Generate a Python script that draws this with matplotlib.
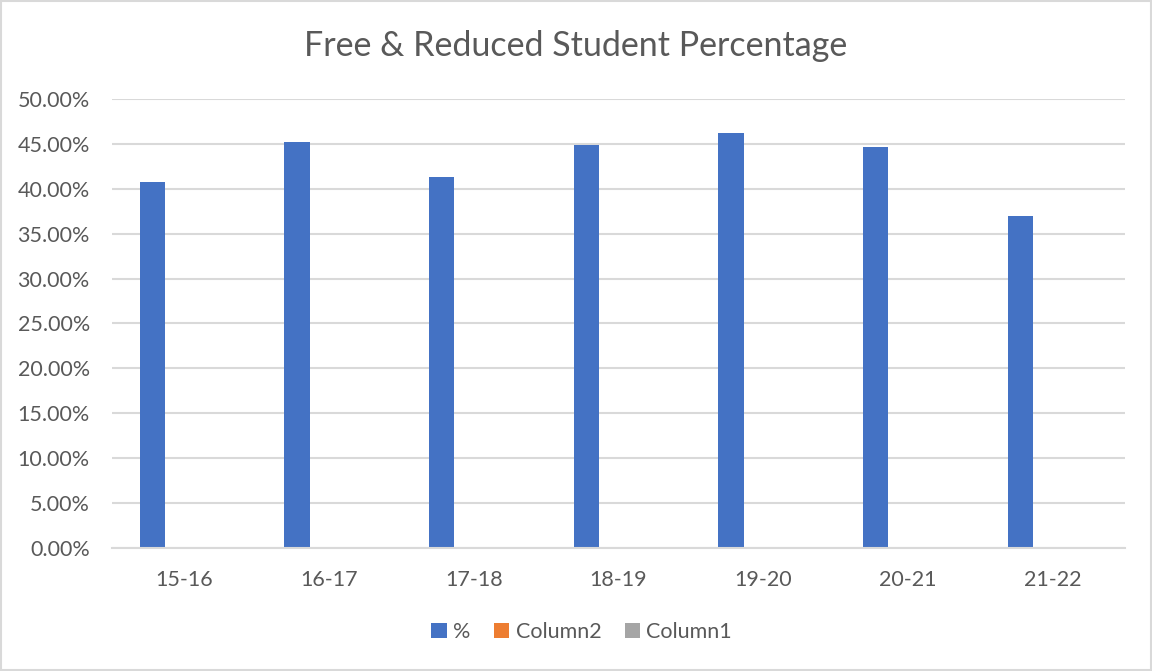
import numpy as np
import matplotlib
matplotlib.use('Agg')
import matplotlib.pyplot as plt
from matplotlib.ticker import FuncFormatter, MultipleLocator
from matplotlib.patches import Rectangle

# data
years = ['15-16', '16-17', '17-18', '18-19', '19-20', '20-21', '21-22']
pct = [0.4075, 0.452, 0.413, 0.449, 0.462, 0.446, 0.370]
column2 = [np.nan] * len(years)
column1 = [np.nan] * len(years)

plt.rcParams['font.family'] = ['Lato', 'DejaVu Sans']
text_color = '#595959'
grid_color = '#d9d9d9'

fig = plt.figure(figsize=(11.52, 6.71), dpi=100)
ax = fig.add_axes([0.0972, 0.1833, 0.8794, 0.6692])

x = np.arange(len(years))
w = 0.175
step = 1.27 * w
ax.bar(x - step, pct, w, color='#4472C4', label='%')
ax.bar(x, column2, w, color='#ED7D31', label='Column2')
ax.bar(x + step, column1, w, color='#A5A5A5', label='Column1')

ax.set_xlim(-0.5, len(years) - 0.5)
ax.set_ylim(0, 0.5)
ax.yaxis.set_major_locator(MultipleLocator(0.05))
ax.yaxis.set_major_formatter(FuncFormatter(lambda v, p: f'{v * 100:.2f}%'))
ax.set_xticks(x)
ax.set_xticklabels(years)
ax.tick_params(axis='both', length=0, labelsize=15.5, colors=text_color)
ax.tick_params(axis='x', pad=16)
ax.tick_params(axis='y', pad=16)

ax.grid(axis='y', color=grid_color, linewidth=1.5)
ax.set_axisbelow(True)
for side in ['top', 'right', 'left']:
    ax.spines[side].set_visible(False)
ax.spines['bottom'].set_color(grid_color)
ax.spines['bottom'].set_linewidth(1.5)

fig.text(0.5, 0.931, 'Free & Reduced Student Percentage', ha='center', va='center',
         fontsize=24.5, color=text_color)

fig.legend(loc='center', bbox_to_anchor=(0.505, 0.058), ncol=3, frameon=False,
           fontsize=15.5, labelcolor=text_color, handlelength=0.7, handleheight=0.7,
           handletextpad=0.3, columnspacing=1.1)

# light border around the chart area
fig.patches.append(Rectangle((0.001, 0.001), 0.998, 0.998, transform=fig.transFigure,
                             fill=False, edgecolor=grid_color, linewidth=1.5))

fig.savefig('out.png', dpi=100)
